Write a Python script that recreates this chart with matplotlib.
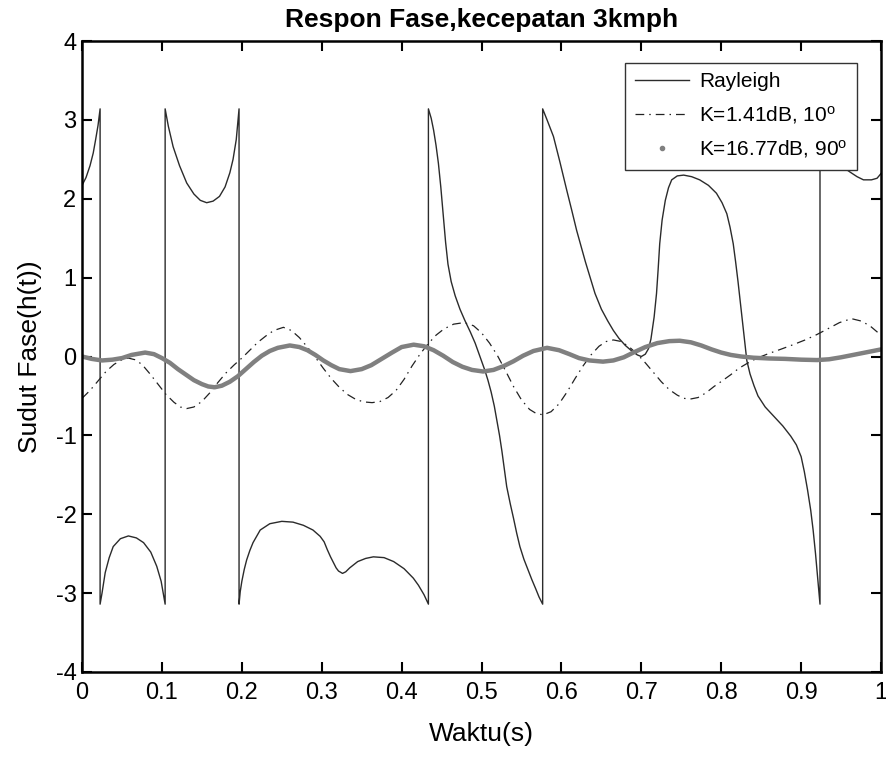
import matplotlib
matplotlib.use("Agg")
import matplotlib.pyplot as plt
from matplotlib.lines import Line2D

plt.rcParams['font.family'] = ['Liberation Sans', 'DejaVu Sans']
plt.rcParams['mathtext.fontset'] = 'custom'
plt.rcParams['mathtext.rm'] = 'Liberation Sans'
plt.rcParams['mathtext.it'] = 'Liberation Sans'
plt.rcParams['axes.unicode_minus'] = False

# ---------------- data ----------------
# Rayleigh phase (wrapped to +-pi); consecutive segments joined by the jumps
ray_t = [0.0, 0.005, 0.01, 0.014, 0.017, 0.02, 0.0226,
         0.0226, 0.025, 0.029, 0.034, 0.039, 0.048, 0.058, 0.068, 0.077, 0.086, 0.0935, 0.099, 0.104,
         0.104, 0.108, 0.114, 0.122, 0.131, 0.14, 0.148, 0.156, 0.164, 0.172, 0.179, 0.185, 0.189,
         0.193, 0.1965,
         0.1965, 0.198, 0.2, 0.203, 0.206, 0.21, 0.214, 0.223, 0.235, 0.25, 0.264, 0.277, 0.289, 0.298,
         0.303, 0.307, 0.311, 0.315, 0.318, 0.321, 0.326, 0.33, 0.335, 0.345, 0.355, 0.3646, 0.378,
         0.39, 0.403, 0.4146, 0.421, 0.428, 0.4335,
         0.4335, 0.437, 0.44, 0.443, 0.446, 0.449, 0.452, 0.455, 0.458, 0.462, 0.467, 0.473, 0.479,
         0.486, 0.492, 0.498, 0.504, 0.508, 0.512, 0.516, 0.519, 0.5225, 0.5255, 0.5285, 0.5315,
         0.536, 0.54, 0.544, 0.548, 0.553, 0.558, 0.563, 0.568, 0.572, 0.5765,
         0.5765, 0.582, 0.59, 0.598, 0.6066, 0.613, 0.619, 0.625, 0.63, 0.636, 0.642, 0.65, 0.658,
         0.665, 0.672, 0.68, 0.688, 0.695, 0.7, 0.705, 0.709, 0.712, 0.716, 0.719, 0.721, 0.723,
         0.726, 0.73, 0.734, 0.738, 0.745, 0.753, 0.763, 0.773, 0.784, 0.794, 0.801, 0.807, 0.811,
         0.815, 0.818, 0.821, 0.8235, 0.8257, 0.8277, 0.83, 0.832, 0.836, 0.841, 0.846, 0.855,
         0.866, 0.877, 0.887, 0.894, 0.9, 0.904, 0.908, 0.912, 0.915, 0.918, 0.921, 0.9236,
         0.9236, 0.93, 0.94, 0.95, 0.961, 0.97, 0.978, 0.988, 0.995, 1.0]
ray_phase = [2.17, 2.27, 2.42, 2.58, 2.75, 2.93, 3.14,
             -3.14, -3.0, -2.74, -2.55, -2.41, -2.31, -2.275, -2.3, -2.36, -2.48, -2.66, -2.85, -3.14,
             3.14, 2.92, 2.66, 2.42, 2.2, 2.06, 1.98, 1.95, 1.97, 2.03, 2.15, 2.33, 2.5,
             2.75, 3.14,
             -3.14, -2.98, -2.85, -2.7, -2.58, -2.46, -2.36, -2.2, -2.12, -2.09, -2.1, -2.14, -2.2, -2.28,
             -2.35, -2.45, -2.54, -2.62, -2.68, -2.72, -2.75, -2.73, -2.68, -2.6, -2.56, -2.54, -2.55,
             -2.6, -2.69, -2.81, -2.9, -3.02, -3.14,
             3.14, 3.02, 2.87, 2.68, 2.45, 2.15, 1.8, 1.45, 1.17, 0.95, 0.77, 0.6, 0.46,
             0.31, 0.17, 0.0, -0.17, -0.3, -0.45, -0.63, -0.8, -1.0, -1.2, -1.43, -1.65,
             -1.87, -2.05, -2.24, -2.41, -2.57, -2.7, -2.83, -2.95, -3.05, -3.14,
             3.14, 3.0, 2.79, 2.47, 2.11, 1.85, 1.6, 1.38, 1.2, 1.0, 0.8, 0.6, 0.45,
             0.33, 0.23, 0.14, 0.07, 0.02, 0.0, 0.03, 0.1, 0.22, 0.5, 0.8, 1.1, 1.43,
             1.73, 1.98, 2.14, 2.24, 2.29, 2.3, 2.28, 2.24, 2.17, 2.07, 1.95, 1.81, 1.64,
             1.43, 1.2, 0.95, 0.72, 0.52, 0.34, 0.12, -0.05, -0.22, -0.37, -0.5, -0.64,
             -0.76, -0.88, -1.01, -1.12, -1.27, -1.46, -1.69, -1.95, -2.2, -2.5, -2.85, -3.14,
             3.14, 2.8, 2.55, 2.42, 2.34, 2.28, 2.24, 2.24, 2.26, 2.32]

# K = 1.41 dB, 10 deg (dash-dot)
k1_t = [0.0, 0.01, 0.02, 0.03, 0.04, 0.05, 0.058, 0.066, 0.075, 0.085, 0.095, 0.105, 0.115,
        0.123, 0.131, 0.14, 0.15, 0.16, 0.17, 0.18, 0.19, 0.2, 0.21, 0.22, 0.23, 0.24, 0.252,
        0.262, 0.272, 0.282, 0.292, 0.302, 0.312, 0.322, 0.332, 0.342, 0.352, 0.363, 0.373,
        0.383, 0.393, 0.403, 0.413, 0.423, 0.433, 0.443, 0.453, 0.465, 0.478, 0.49, 0.5, 0.51,
        0.52, 0.53, 0.54, 0.55, 0.56, 0.568, 0.577, 0.587, 0.597, 0.607, 0.617, 0.627, 0.637,
        0.647, 0.656, 0.665, 0.675, 0.685, 0.695, 0.705, 0.715, 0.725, 0.735, 0.745, 0.753,
        0.761, 0.771, 0.781, 0.791, 0.801, 0.812, 0.822, 0.832, 0.845, 0.86, 0.874, 0.89, 0.905,
        0.92, 0.935, 0.948, 0.963, 0.975, 0.986, 1.0]
k1_phase = [-0.53, -0.43, -0.31, -0.19, -0.10, -0.04, -0.02, -0.04, -0.10, -0.22, -0.35, -0.48,
            -0.58, -0.64, -0.66, -0.64, -0.57, -0.46, -0.33, -0.21, -0.11, -0.02, 0.08, 0.18,
            0.26, 0.33, 0.37, 0.33, 0.24, 0.12, -0.01, -0.15, -0.28, -0.39, -0.48, -0.54, -0.575,
            -0.585, -0.57, -0.52, -0.43, -0.29, -0.12, 0.03, 0.16, 0.27, 0.35, 0.41, 0.43, 0.39,
            0.30, 0.17, 0.01, -0.18, -0.38, -0.55, -0.67, -0.72, -0.74, -0.70, -0.60, -0.45,
            -0.28, -0.12, 0.02, 0.13, 0.19, 0.21, 0.19, 0.12, 0.03, -0.08, -0.20, -0.32, -0.42,
            -0.49, -0.53, -0.54, -0.52, -0.46, -0.38, -0.31, -0.23, -0.15, -0.09, -0.02, 0.04,
            0.09, 0.15, 0.21, 0.28, 0.36, 0.43, 0.48, 0.45, 0.39, 0.27]

# K = 16.77 dB, 90 deg (thick grey dotted)
k2_t = [0.0, 0.012, 0.025, 0.038, 0.05, 0.062, 0.079, 0.09, 0.1, 0.11, 0.12, 0.13, 0.14, 0.15,
        0.158, 0.166, 0.175, 0.185, 0.195, 0.205, 0.215, 0.225, 0.235, 0.245, 0.26, 0.272, 0.282,
        0.292, 0.302, 0.312, 0.322, 0.336, 0.35, 0.362, 0.375, 0.388, 0.4, 0.415, 0.428, 0.44,
        0.452, 0.464, 0.476, 0.488, 0.502, 0.515, 0.528, 0.54, 0.552, 0.565, 0.582, 0.597, 0.61,
        0.622, 0.635, 0.652, 0.665, 0.678, 0.69, 0.705, 0.72, 0.735, 0.748, 0.762, 0.775, 0.788,
        0.8, 0.812, 0.825, 0.84, 0.86, 0.88, 0.9, 0.92, 0.935, 0.95, 0.965, 0.98, 1.0]
k2_phase = [0.0, -0.03, -0.05, -0.04, -0.02, 0.02, 0.05, 0.03, -0.02, -0.08, -0.16, -0.23, -0.30,
            -0.35, -0.38, -0.39, -0.37, -0.32, -0.25, -0.16, -0.07, 0.01, 0.07, 0.11, 0.14, 0.12,
            0.08, 0.02, -0.05, -0.11, -0.16, -0.185, -0.16, -0.11, -0.03, 0.05, 0.12, 0.15, 0.13,
            0.08, 0.01, -0.07, -0.13, -0.17, -0.19, -0.17, -0.12, -0.06, 0.01, 0.07, 0.11, 0.08,
            0.03, -0.02, -0.05, -0.065, -0.05, -0.01, 0.05, 0.12, 0.17, 0.195, 0.20, 0.18, 0.14,
            0.09, 0.05, 0.02, 0.0, -0.015, -0.025, -0.03, -0.04, -0.045, -0.035, -0.01, 0.02,
            0.05, 0.09]

x_ticks = [0, 0.1, 0.2, 0.3, 0.4, 0.5, 0.6, 0.7, 0.8, 0.9, 1]
x_tick_labels = ['0', '0.1', '0.2', '0.3', '0.4', '0.5', '0.6', '0.7', '0.8', '0.9', '1']
y_ticks = [-4, -3, -2, -1, 0, 1, 2, 3, 4]
series_labels = ['Rayleigh', r'K=1.41dB, 10$^{\mathrm{o}}$', r'K=16.77dB, 90$^{\mathrm{o}}$']

# ---------------- figure ----------------
fig = plt.figure(figsize=(8.86, 7.57), dpi=100)
ax = fig.add_axes([0.0926, 0.1123, 0.9018, 0.8335])

ax.plot(ray_t, ray_phase, color='#2b2b2b', lw=1.0, solid_joinstyle='round')
ax.plot(k1_t, k1_phase, color='#222222', lw=0.9, dashes=(7, 4, 1.2, 4))
grey = '#808080'
ax.plot(k2_t, k2_phase, color=grey, lw=3.2, solid_capstyle='round', solid_joinstyle='round')

ax.set_xlim(0, 1)
ax.set_ylim(-4, 4)
ax.set_xticks(x_ticks)
ax.set_xticklabels(x_tick_labels)
ax.set_yticks(y_ticks)
ax.tick_params(direction='in', length=7, width=1.5, top=True, right=True, labelsize=17)
ax.tick_params(axis='x', pad=7)
ax.tick_params(axis='y', pad=4)
for s in ax.spines.values():
    s.set_linewidth(1.8)

ax.set_title('Respon Fase,kecepatan 3kmph', fontsize=19, fontweight='bold', pad=10)
ax.set_xlabel('Waktu(s)', fontsize=19, labelpad=13)
ax.set_ylabel('Sudut Fase(h(t))', fontsize=19, labelpad=10)

handles = [Line2D([], [], color='#2b2b2b', lw=1.0),
           Line2D([], [], color='#222222', lw=0.9, dashes=(7, 4, 1.2, 4)),
           Line2D([], [], color=grey, ls='none', marker='.', markersize=6)]
leg = ax.legend(handles, series_labels, loc='upper right', bbox_to_anchor=(0.97, 0.965),
                fontsize=15, frameon=True, fancybox=False, framealpha=1, edgecolor='#333333',
                handlelength=2.6, handletextpad=0.5, borderpad=0.45, labelspacing=0.6,
                borderaxespad=0)
leg.get_frame().set_linewidth(1.0)

fig.savefig('out.png', dpi=100)
